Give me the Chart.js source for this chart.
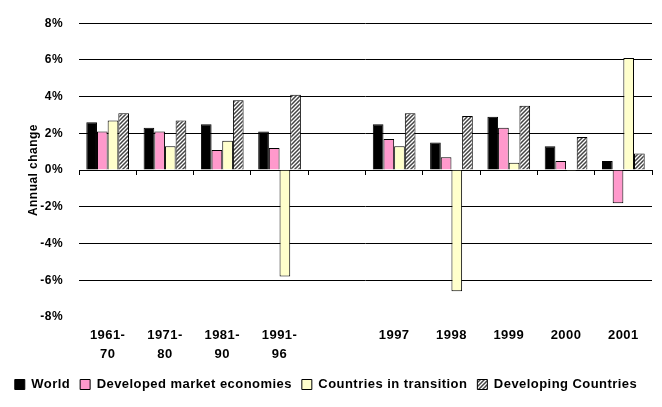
<!DOCTYPE html>
<html>
<head>
<meta charset="utf-8">
<script src="https://cdn.jsdelivr.net/npm/chart.js@4/dist/chart.umd.min.js"></script>
<style>
html,body{margin:0;padding:0;background:#fff;}
#wrap{width:662px;height:407px;}
</style>
</head>
<body>
<div id="wrap"><canvas id="c" width="662" height="407"></canvas></div>
<script>
const categories = [["1961-","70"],["1971-","80"],["1981-","90"],["1991-","96"],"","1997","1998","1999","2000","2001"];
const world = [2.6, 2.3, 2.5, 2.1, null, 2.5, 1.5, 2.9, 1.3, 0.5];
const developed = [2.1, 2.1, 1.1, 1.2, null, 1.7, 0.7, 2.3, 0.5, -1.8];
const transition = [2.7, 1.3, 1.6, -5.8, null, 1.3, -6.6, 0.4, -0.05, 6.1];
const developing = [3.1, 2.7, 3.8, 4.1, null, 3.1, 2.95, 3.5, 1.8, 0.9];
const yTicks = [-8, -6, -4, -2, 0, 2, 4, 6, 8];

function hatch() {
  const p = document.createElement('canvas');
  p.width = 4; p.height = 4;
  const g = p.getContext('2d');
  g.fillStyle = '#ffffff';
  g.fillRect(0, 0, 4, 4);
  g.strokeStyle = '#444444';
  g.lineWidth = 1.5;
  g.beginPath();
  g.moveTo(-1, 5); g.lineTo(5, -1);
  g.moveTo(-1, 1); g.lineTo(1, -1);
  g.moveTo(3, 5); g.lineTo(5, 3);
  g.stroke();
  return g.createPattern(p, 'repeat');
}

const FAM = "'Liberation Sans', Arial, sans-serif";
const FONT12 = {family: FAM, size: 12, weight: 'bold'};
const FONT13 = {family: FAM, size: 13, weight: 'bold', lineHeight: '19px'};
const common = {borderColor: '#000000', borderWidth: 1, categoryPercentage: 0.745, barPercentage: 1.0};
const LS = '0.45px';

const spacing = {
  id: 'spacing',
  beforeUpdate(chart) { chart.ctx.letterSpacing = LS; },
  beforeLayout(chart) { chart.ctx.letterSpacing = LS; },
  beforeDraw(chart) { chart.ctx.letterSpacing = LS; }
};

new Chart(document.getElementById('c'), {
  type: 'bar',
  plugins: [spacing],
  data: {
    labels: categories,
    datasets: [
      Object.assign({label: 'World', data: world, backgroundColor: '#000000'}, common),
      Object.assign({label: 'Developed market economies', data: developed, backgroundColor: '#FF99CC'}, common),
      Object.assign({label: 'Countries in transition', data: transition, backgroundColor: '#FFFFCC'}, common),
      Object.assign({label: 'Developing Countries', data: developing, backgroundColor: hatch()}, common)
    ]
  },
  options: {
    responsive: false,
    animation: false,
    devicePixelRatio: 1,
    layout: {padding: {top: 17, right: 10, left: 0, bottom: 6}},
    plugins: {
      tooltip: {enabled: false},
      legend: {
        position: 'bottom',
        labels: {
          color: '#000', font: {family: FAM, size: 13, weight: 'bold'}, boxWidth: 10, boxHeight: 10, padding: 10
        }
      }
    },
    scales: {
      x: {
        grid: {display: false},
        border: {display: false},
        afterFit: (s) => { s.height += 3; },
        ticks: {color: '#000', font: FONT13, padding: 1, maxRotation: 0, autoSkip: false}
      },
      x2: {
        type: 'category',
        position: {y: 0},
        offset: true,
        grid: {offset: true, drawOnChartArea: false, drawTicks: true, tickLength: 4, color: '#000'},
        border: {display: true, color: '#000'},
        ticks: {display: false}
      },
      y: {
        min: -8, max: 8,
        afterBuildTicks: (s) => { s.ticks = yTicks.map(v => ({value: v})); },
        afterFit: (s) => { s.width = 79; },
        grid: {
          color: (ctx) => (ctx.tick && ctx.tick.value === -8) ? 'rgba(0,0,0,0)' : '#000',
          drawTicks: false, lineWidth: 1
        },
        border: {display: false},
        ticks: {color: '#000', font: FONT12, padding: 16, callback: (v) => v + '%'},
        title: {display: true, text: 'Annual change', color: '#000', font: FONT12, padding: {top: 26, bottom: 0}}
      }
    }
  }
});
</script>
</body>
</html>
